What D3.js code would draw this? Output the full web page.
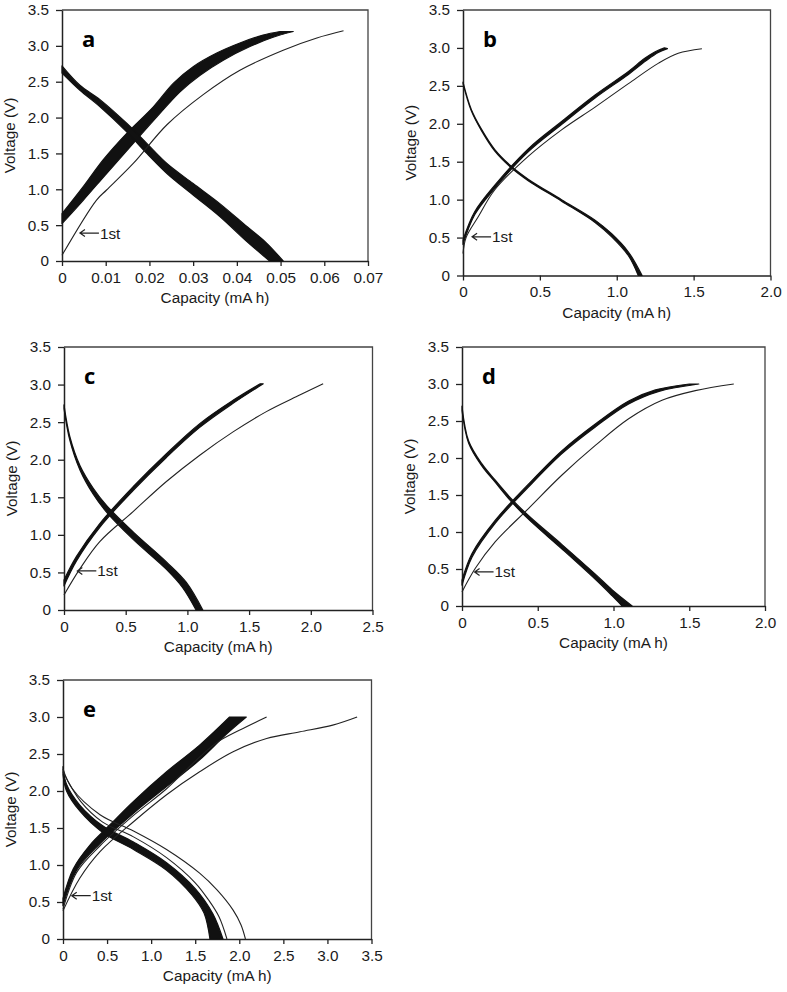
<!DOCTYPE html>
<html>
<head>
<meta charset="utf-8">
<script src="https://cdn.jsdelivr.net/npm/d3@7"></script>
<style>
  html, body { margin: 0; padding: 0; background: #fff; }
  svg { display: block; }
  text { font-family: "Liberation Sans", Arial, sans-serif; fill: #1a1a1a; }
</style>
</head>
<body>
<svg id="chart" width="787" height="992"></svg>
<script>
// ---------------- DATA ([capacity mAh, voltage V]) ----------------
const panelNames = ["a", "b", "c", "d", "e"];
const yTicks = [0, 0.5, 1.0, 1.5, 2.0, 2.5, 3.0, 3.5];
const xTicksA = [0, 0.01, 0.02, 0.03, 0.04, 0.05, 0.06, 0.07];
const xTicksB = [0, 0.5, 1.0, 1.5, 2.0];
const xTicksC = [0, 0.5, 1.0, 1.5, 2.0, 2.5];
const xTicksD = [0, 0.5, 1.0, 1.5, 2.0];
const xTicksE = [0, 0.5, 1.0, 1.5, 2.0, 2.5, 3.0, 3.5];

// panel a
const aCharge1st = [[0,0.08],[0.0079,0.85],[0.0102,0.99],[0.0163,1.36],[0.024,1.90],[0.0323,2.32],[0.0407,2.66],[0.0506,2.94],[0.0583,3.11],[0.0644,3.21]];
const aChargeBandIn = [[0,0.66],[0.0049,1.04],[0.0094,1.41],[0.0148,1.78],[0.0209,2.15],[0.0255,2.48],[0.030,2.71],[0.0354,2.90],[0.0407,3.04],[0.046,3.15],[0.0499,3.20]];
const aChargeBandOut = [[0,0.52],[0.0049,0.85],[0.0102,1.22],[0.0163,1.64],[0.0217,2.01],[0.027,2.36],[0.0316,2.59],[0.0369,2.80],[0.043,2.99],[0.0483,3.12],[0.0529,3.20]];
const aDisBandUp = [[0,2.72],[0.0041,2.45],[0.0087,2.25],[0.0148,1.92],[0.0194,1.64],[0.024,1.36],[0.030,1.08],[0.0361,0.80],[0.0423,0.48],[0.0468,0.25],[0.0506,0]];
const aDisBandLow = [[0,2.62],[0.0041,2.38],[0.0087,2.15],[0.0148,1.80],[0.0194,1.50],[0.024,1.22],[0.030,0.92],[0.0361,0.62],[0.0423,0.27],[0.0475,0]];

// panel b
const bCharge1st = [[0,0.29],[0.02,0.50],[0.098,0.77],[0.207,1.13],[0.424,1.57],[0.641,1.92],[0.859,2.22],[1.076,2.53],[1.272,2.80],[1.40,2.93],[1.554,2.99]];
const bChargeBandIn = [[0,0.47],[0.076,0.84],[0.207,1.19],[0.424,1.67],[0.641,2.03],[0.859,2.38],[1.076,2.69],[1.18,2.86],[1.25,2.95],[1.31,3.0]];
const bChargeBandOut = [[0,0.41],[0.076,0.80],[0.207,1.15],[0.424,1.63],[0.641,1.99],[0.859,2.34],[1.076,2.65],[1.19,2.83],[1.27,2.94],[1.33,2.99]];
const bDisBandUp = [[0,2.55],[0.054,2.19],[0.12,1.93],[0.207,1.66],[0.314,1.44],[0.424,1.27],[0.641,1.00],[0.859,0.73],[0.967,0.55],[1.076,0.31],[1.165,0]];
const bDisBandLow = [[0,2.53],[0.054,2.17],[0.12,1.91],[0.207,1.64],[0.314,1.42],[0.424,1.25],[0.641,0.98],[0.859,0.70],[0.967,0.51],[1.076,0.26],[1.14,0]];

// panel c
const cCharge1st = [[0,0.2],[0.13,0.55],[0.29,0.91],[0.56,1.31],[0.83,1.71],[1.10,2.06],[1.37,2.37],[1.64,2.64],[1.91,2.86],[2.10,3.01]];
const cChargeBandIn = [[0,0.40],[0.10,0.71],[0.29,1.15],[0.56,1.64],[0.83,2.08],[1.10,2.48],[1.37,2.79],[1.59,3.01]];
const cChargeBandOut = [[0,0.32],[0.10,0.65],[0.29,1.10],[0.56,1.59],[0.83,2.03],[1.10,2.43],[1.37,2.75],[1.615,3.01]];
const cDisBandUp = [[0,2.73],[0.047,2.31],[0.13,1.92],[0.237,1.62],[0.346,1.39],[0.56,1.04],[0.83,0.64],[0.99,0.37],[1.125,0]];
const cDisBandLow = [[0,2.68],[0.047,2.26],[0.13,1.86],[0.237,1.54],[0.346,1.30],[0.56,0.94],[0.83,0.54],[0.96,0.30],[1.07,0]];

// panel d
const dCharge1st = [[0,0.19],[0.088,0.51],[0.22,0.87],[0.44,1.32],[0.66,1.77],[0.88,2.17],[1.10,2.53],[1.32,2.78],[1.54,2.91],[1.794,3.0]];
const dChargeBandIn = [[0,0.35],[0.066,0.71],[0.22,1.16],[0.44,1.65],[0.66,2.10],[0.88,2.46],[1.10,2.77],[1.277,2.92],[1.50,3.0]];
const dChargeBandOut = [[0,0.28],[0.066,0.66],[0.22,1.12],[0.44,1.61],[0.66,2.06],[0.88,2.42],[1.10,2.73],[1.30,2.90],[1.563,3.0]];
const dDisBandUp = [[0,2.70],[0.044,2.23],[0.132,1.92],[0.22,1.70],[0.33,1.44],[0.44,1.22],[0.66,0.83],[0.88,0.43],[0.99,0.22],[1.123,0]];
const dDisBandLow = [[0,2.64],[0.044,2.20],[0.132,1.89],[0.22,1.67],[0.33,1.40],[0.44,1.17],[0.66,0.77],[0.88,0.36],[0.99,0.14],[1.057,0]];

// panel e
const eCharge1st = [[0,0.38],[0.19,0.82],[0.42,1.18],[0.80,1.585],[1.175,1.95],[1.55,2.26],[1.93,2.53],[2.31,2.71],[2.69,2.80],[3.06,2.89],[3.337,3.0]];
const eCharge2nd = [[0,0.40],[0.155,0.90],[0.42,1.26],[0.80,1.67],[1.175,2.03],[1.40,2.29],[1.74,2.65],[2.0,2.82],[2.31,3.0]];
const eChargeBandIn = [[0,0.55],[0.117,0.95],[0.306,1.27],[0.53,1.54],[0.80,1.86],[1.175,2.26],[1.55,2.62],[1.89,3.0]];
const eChargeBandOut = [[0,0.45],[0.155,0.93],[0.42,1.29],[0.80,1.70],[1.175,2.06],[1.55,2.42],[1.855,2.77],[2.08,3.0]];
const eDis1st = [[0,2.30],[0.10,2.04],[0.42,1.68],[0.80,1.46],[1.175,1.21],[1.55,0.89],[1.75,0.66],[1.93,0.39],[2.02,0.19],[2.07,0]];
const eDis2nd = [[0,2.26],[0.2,1.86],[0.45,1.58],[0.8,1.38],[1.175,1.10],[1.5,0.76],[1.65,0.53],[1.77,0.30],[1.86,0]];
const eDisBandUp = [[0,2.33],[0.04,2.09],[0.19,1.81],[0.45,1.53],[0.80,1.31],[1.175,1.03],[1.50,0.68],[1.70,0.34],[1.815,0]];
const eDisBandLow = [[0,2.22],[0.04,2.00],[0.19,1.73],[0.45,1.44],[0.80,1.21],[1.175,0.93],[1.46,0.60],[1.60,0.35],[1.667,0]];

// "←1st" annotation arrow tips [capacity, voltage]
const annot = { a: [0.0041, 0.39], b: [0.059, 0.51], c: [0.108, 0.52], d: [0.083, 0.46], e: [0.099, 0.585] };

// ---------------- LAYOUT ----------------
const panels = [
  { name: "a", box: [62, 10, 368, 261], xMax: 0.07, xTicks: xTicksA, fmt: d => d === 0 ? "0" : d.toFixed(2),
    thin: [aCharge1st], bands: [[aChargeBandIn, aChargeBandOut], [aDisBandUp, aDisBandLow]] },
  { name: "b", box: [463, 10, 770.5, 275.5], xMax: 2.0, xTicks: xTicksB, fmt: d => d === 0 ? "0" : d.toFixed(1),
    thin: [bCharge1st], bands: [[bChargeBandIn, bChargeBandOut], [bDisBandUp, bDisBandLow]] },
  { name: "c", box: [64, 347, 372.5, 610], xMax: 2.5, xTicks: xTicksC, fmt: d => d === 0 ? "0" : d.toFixed(1),
    thin: [cCharge1st], bands: [[cChargeBandIn, cChargeBandOut], [cDisBandUp, cDisBandLow]] },
  { name: "d", box: [462, 347, 765, 606], xMax: 2.0, xTicks: xTicksD, fmt: d => d === 0 ? "0" : d.toFixed(1),
    thin: [dCharge1st], bands: [[dChargeBandIn, dChargeBandOut], [dDisBandUp, dDisBandLow]] },
  { name: "e", box: [63, 680, 371.5, 939], xMax: 3.5, xTicks: xTicksE, fmt: d => d === 0 ? "0" : d.toFixed(1),
    thin: [eCharge1st, eCharge2nd, eDis1st, eDis2nd], bands: [[eChargeBandIn, eChargeBandOut], [eDisBandUp, eDisBandLow]] }
];

const FS = 15.3;
const svg = d3.select("#chart");
svg.append("rect").attr("width", 787).attr("height", 992).attr("fill", "#fff");

panels.forEach(p => {
  const [x0, y0, x1, y1] = p.box;
  const x = d3.scaleLinear().domain([0, p.xMax]).range([x0, x1]);
  const y = d3.scaleLinear().domain([0, 3.5]).range([y1, y0]);
  const g = svg.append("g");

  // frame (top / right)
  g.append("path")
    .attr("d", `M${x0},${y0}H${x1}V${y1}`)
    .attr("fill", "none").attr("stroke", "#444").attr("stroke-width", 1.3);

  // axes
  const xAxis = d3.axisBottom(x).tickValues(p.xTicks).tickFormat(p.fmt).tickSizeInner(5).tickSizeOuter(0).tickPadding(6);
  const yAxis = d3.axisLeft(y).tickValues(yTicks).tickFormat(d => d === 0 ? "0" : d.toFixed(1)).tickSizeInner(6).tickSizeOuter(0).tickPadding(7);
  const gx = g.append("g").attr("transform", `translate(0,${y1})`).call(xAxis);
  const gy = g.append("g").attr("transform", `translate(${x0},0)`).call(yAxis);
  [gx, gy].forEach(ax => {
    ax.attr("font-family", null).attr("font-size", null);
    ax.select(".domain").attr("stroke", "#222").attr("stroke-width", 1.5);
    ax.selectAll(".tick line").attr("stroke", "#222").attr("stroke-width", 1.3);
    ax.selectAll(".tick text").attr("font-size", FS).attr("fill", "#1a1a1a");
  });

  // axis titles
  g.append("text").attr("x", (x0 + x1) / 2).attr("y", y1 + 42)
    .attr("text-anchor", "middle").attr("font-size", FS).text("Capacity (mA h)");
  g.append("text")
    .attr("transform", `translate(${x0 - 47},${(y0 + y1) / 2}) rotate(-90)`)
    .attr("text-anchor", "middle").attr("font-size", FS).text("Voltage (V)");

  // curves
  const line = d3.line().x(d => x(d[0])).y(d => y(d[1])).curve(d3.curveCatmullRom.alpha(0.5));
  p.bands.forEach(([A, B]) => {
    const d = line(A) + line(B.slice().reverse()).replace(/^M/, "L") + "Z";
    g.append("path").attr("d", d).attr("fill", "#111").attr("stroke", "#111").attr("stroke-width", 1.2)
      .attr("stroke-linejoin", "round");
  });
  p.thin.forEach(c => {
    g.append("path").attr("d", line(c)).attr("fill", "none").attr("stroke", "#222").attr("stroke-width", 1.1);
  });

  // annotation arrow + text
  const an = annot[p.name];
  const tx = x(an[0]), ty = y(an[1]);
  g.append("path")
    .attr("d", `M${tx + 19},${ty}H${tx}M${tx + 5},${ty - 3.5}L${tx},${ty}L${tx + 5},${ty + 3.5}`)
    .attr("fill", "none").attr("stroke", "#222").attr("stroke-width", 1.2);
  g.append("text").attr("x", tx + 20).attr("y", ty).attr("dy", "0.36em")
    .attr("font-size", FS).text("1st");

  // panel letter
  g.append("text").attr("x", x0 + 20).attr("y", y0 + 37)
    .attr("font-size", 22).attr("font-weight", "bold")
    .style("font-family", '"Open Sans", "Liberation Sans", sans-serif').style("fill", "#000")
    .text(p.name);
});
</script>
</body>
</html>
